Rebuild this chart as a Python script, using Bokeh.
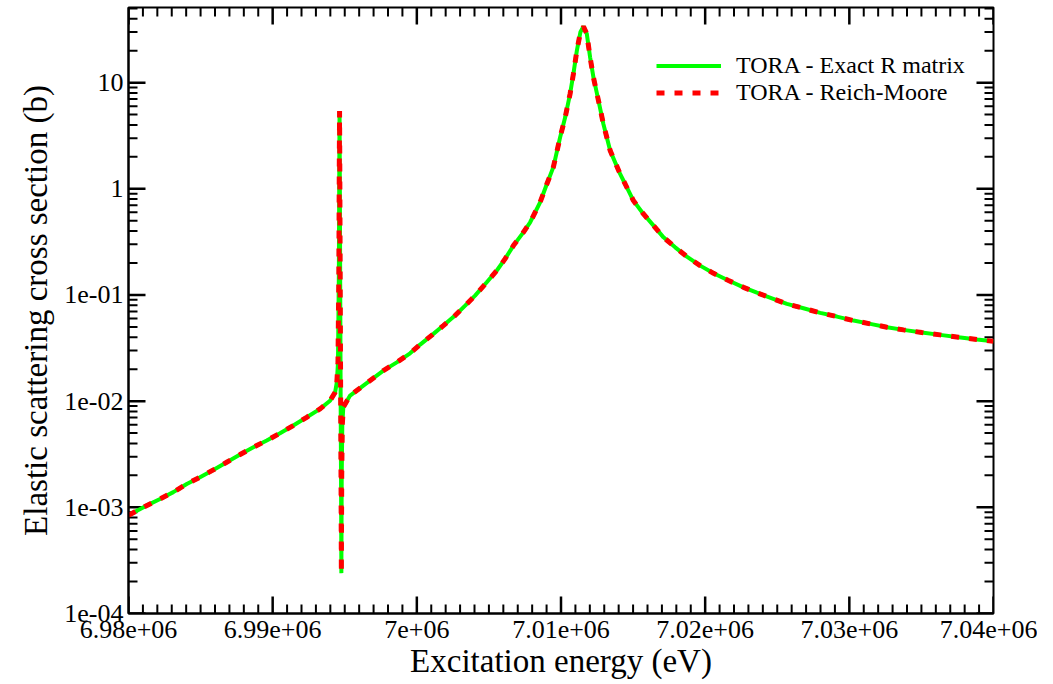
import math
from bokeh.plotting import figure
from bokeh.models import Range1d, Legend, LegendItem, FixedTicker
from bokeh.embed import file_html
from bokeh.resources import INLINE

# Excitation energy (eV)
energy = [
    6980000, 6981140, 6982190, 6983110, 6984040, 6984960, 6985880, 6986810,
    6987740, 6988660, 6989590, 6990510, 6991430, 6992360, 6993290, 6993980,
    6994330, 6994450, 6994530, 6994590, 6994620, 6994640, 6994660, 6994690,
    6994720, 6994745, 6994765, 6994790, 6994830, 6994900, 6995370, 6996290,
    6997680, 6998610, 6999530, 7000230, 7001150, 7001840, 7002650, 7003350,
    7004040, 7004850, 7005550, 7006120, 7006700, 7007390, 7007860, 7008550,
    7009020, 7009470, 7009940, 7010290, 7010630, 7010860, 7011100, 7011350,
    7011560, 7011790, 7012020, 7012250, 7012600, 7012940, 7013410, 7014100,
    7014450, 7015020, 7015720, 7016420, 7017110, 7017920, 7018730, 7019650,
    7020580, 7021620, 7022660, 7023590, 7024630, 7025670, 7026820, 7027980,
    7029140, 7030290, 7031450, 7032610, 7033760, 7035030, 7036300, 7037570,
    7038850, 7040000,
]

# Elastic scattering cross section (b), exact R-matrix
sigma_exact = [
    8.4e-4, 1.02e-3, 1.20e-3, 1.39e-3, 1.66e-3, 1.92e-3, 2.25e-3, 2.66e-3,
    3.14e-3, 3.68e-3, 4.26e-3, 4.99e-3, 5.89e-3, 7.05e-3, 8.46e-3, 1.01e-2,
    1.21e-2, 1.50e-2, 2.3e-2, 0.15, 1.5, 5.4, 1.2, 0.08,
    8e-3, 1.5e-3, 2.4e-4, 2.0e-3, 6.0e-3, 8.76e-3, 1.129e-2, 1.403e-2,
    1.94e-2, 2.32e-2, 2.82e-2, 3.41e-2, 4.30e-2, 5.15e-2, 6.40e-2, 7.95e-2,
    9.87e-2, 0.1317, 0.170, 0.2188, 0.2918, 0.389, 0.484, 0.746,
    1.11, 1.60, 3.06, 4.71, 7.83, 12.08, 20.0, 30.0,
    33.7, 28.8, 17.3, 11.2, 6.76, 4.08, 2.29, 1.38,
    1.11, 0.774, 0.580, 0.450, 0.349, 0.281, 0.230, 0.189,
    0.160, 0.137, 0.118, 0.105, 0.0931, 0.0824, 0.0750, 0.0678,
    0.0626, 0.0574, 0.0534, 0.0497, 0.0469, 0.0443, 0.0421, 0.0400,
    0.0380, 0.0366,
]

# Reich-Moore (visually identical to the exact result)
sigma_rm = list(sigma_exact)

x_ticks = [6.98e6, 6.99e6, 7.00e6, 7.01e6, 7.02e6, 7.03e6, 7.04e6]
x_tick_labels = ["6.98e+06", "6.99e+06", "7e+06", "7.01e+06", "7.02e+06",
                 "7.03e+06", "7.04e+06"]
y_ticks = [1e-4, 1e-3, 1e-2, 1e-1, 1, 10]
y_tick_labels = ["1e-04", "1e-03", "1e-02", "1e-01", "1", "10"]

series_labels = ["TORA - Exact R matrix", "TORA - Reich-Moore"]

X_LO, X_HI = 6.98e6, 7.04e6
Y_LO, Y_HI = 1e-4, 51

x_minor = [X_LO + i * 1000 for i in range(61) if i % 10 != 0]
y_minor = [m * 10.0 ** k for k in range(-4, 2) for m in range(2, 10)
           if m * 10.0 ** k < Y_HI]

FONT = "Liberation Serif"
MAJ, MIN = 17, 9

p = figure(frame_width=865, frame_height=606,
           x_range=Range1d(X_LO, X_HI), y_range=Range1d(Y_LO, Y_HI),
           y_axis_type="log", output_backend="svg", toolbar_location=None,
           min_border_left=128, min_border_right=44, min_border_top=7,
           min_border_bottom=55)
p.grid.visible = False
p.outline_line_color = "black"
p.outline_line_width = 2
p.outline_line_alpha = 1.0

for ax, ticks, labels in ((p.xaxis[0], x_ticks, x_tick_labels),
                          (p.yaxis[0], y_ticks, y_tick_labels)):
    ax.ticker = FixedTicker(ticks=ticks, minor_ticks=[])
    ax.major_label_overrides = {t: l for t, l in zip(ticks, labels)}
    ax.axis_line_color = "black"
    ax.axis_line_width = 2
    ax.major_tick_in = 0
    ax.major_tick_out = 0
    ax.minor_tick_in = 0
    ax.minor_tick_out = 0
    ax.major_label_text_font = FONT
    ax.major_label_text_font_size = "26px"
    ax.major_label_text_color = "black"
    ax.axis_label_text_font = FONT
    ax.axis_label_text_font_size = "33px"
    ax.axis_label_text_font_style = "normal"
    ax.axis_label_text_color = "black"

p.xaxis[0].major_label_standoff = 7
p.xaxis[0].axis_label = "Excitation energy (eV)"
p.xaxis[0].axis_label_standoff = 2
p.yaxis[0].major_label_standoff = 5
p.yaxis[0].axis_label = "Elastic scattering cross section (b)"
p.yaxis[0].axis_label_standoff = 7

# inward tick marks on all four sides of the frame
tick_kw = dict(line_color="black", length_units="screen")
for vals, L, w in ((x_ticks, MAJ, 2.5), (x_minor, MIN, 2)):
    p.ray(x=vals, y=[Y_LO] * len(vals), length=L, angle=math.pi / 2,
          line_width=w, **tick_kw)
    p.ray(x=vals, y=[Y_HI] * len(vals), length=L, angle=-math.pi / 2,
          line_width=w, **tick_kw)
for vals, L, w in ((y_ticks, MAJ, 2.5), (y_minor, MIN, 2)):
    p.ray(x=[X_LO] * len(vals), y=vals, length=L, angle=0,
          line_width=w, **tick_kw)
    p.ray(x=[X_HI] * len(vals), y=vals, length=L, angle=math.pi,
          line_width=w, **tick_kw)

r1 = p.line(energy, sigma_exact, line_color="#00ff00", line_width=4)
r2 = p.line(energy, sigma_rm, line_color="#ff0000", line_width=5,
            line_dash="8 10")

legend = Legend(items=[LegendItem(label=series_labels[0], renderers=[r1]),
                       LegendItem(label=series_labels[1], renderers=[r2])],
                location=(528, 507), border_line_color=None,
                background_fill_alpha=0, label_text_font=FONT,
                label_text_font_size="24px", label_text_color="black",
                glyph_width=65, glyph_height=25, label_height=25, spacing=0,
                padding=0, margin=0, label_standoff=15)
p.add_layout(legend)

open("out.html", "w").write(file_html(p, INLINE))
